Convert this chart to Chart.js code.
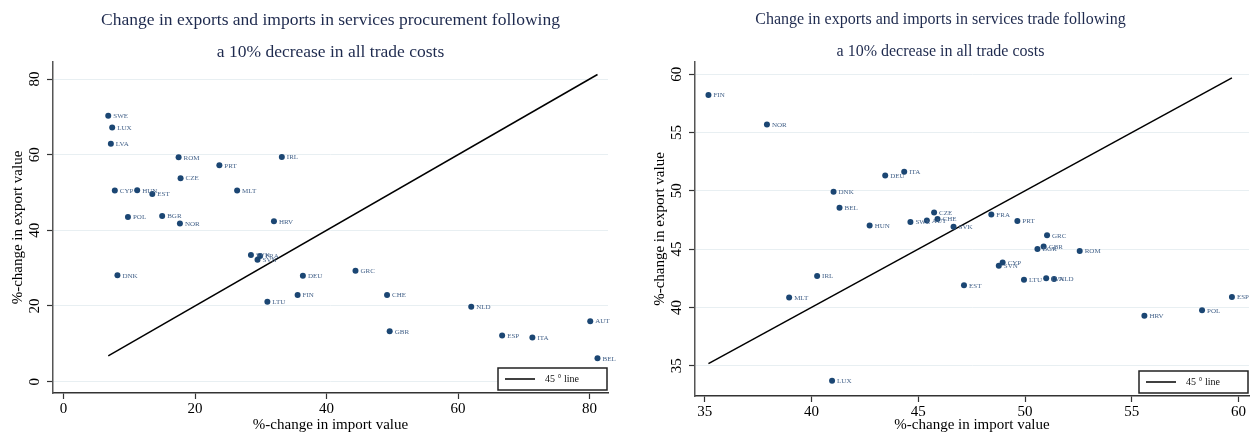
<!DOCTYPE html>
<html>
<head>
<meta charset="utf-8">
<script src="https://cdn.jsdelivr.net/npm/chart.js@4.4.1/dist/chart.umd.min.js"></script>
<style>
  html, body { margin: 0; padding: 0; background: #fff; }
  .wrap { position: absolute; top: 0; width: 627px; height: 439px; }
  #left { left: 0; }
  #right { left: 627px; }
</style>
</head>
<body>
<div class="wrap" id="left"><canvas id="procChart" width="627" height="439"></canvas></div>
<div class="wrap" id="right"><canvas id="tradeChart" width="627" height="439"></canvas></div>
<script>
// services procurement (left)
const procCountries = ['SWE','LUX','LVA','ROM','IRL','PRT','CZE','CYP','HUN','EST','MLT','POL','BGR','NOR','HRV',
  'SVK','FRA','SVN','DNK','DEU','GRC','FIN','LTU','CHE','NLD','GBR','ESP','ITA','AUT','BEL'];
const procImport = [6.8, 7.4, 7.2, 17.5, 33.2, 23.7, 17.8, 7.8, 11.2, 13.5, 26.4, 9.8, 15.0, 17.7, 32.0,
  28.5, 29.9, 29.5, 8.2, 36.4, 44.4, 35.6, 31.0, 49.2, 62.0, 49.6, 66.7, 71.3, 80.1, 81.2];
const procExport = [70.3, 67.2, 62.9, 59.3, 59.4, 57.2, 53.8, 50.5, 50.6, 49.6, 50.5, 43.5, 43.8, 41.8, 42.4,
  33.5, 33.2, 32.2, 28.1, 28.0, 29.3, 22.9, 21.1, 22.9, 19.8, 13.3, 12.2, 11.7, 16.0, 6.2];
const procTicks = [0, 20, 40, 60, 80];

// services trade (right)
const tradeCountries = ['FIN','NOR','DEU','ITA','DNK','BEL','HUN','SWE','AUT','CZE','CHE','SVK','FRA','PRT','GRC',
  'GBR','BGR','ROM','CYP','SVN','LTU','LVA','NLD','EST','IRL','MLT','LUX','HRV','POL','ESP'];
const tradeImport = [35.17, 37.91, 43.45, 44.34, 41.03, 41.31, 42.72, 44.63, 45.40, 45.74, 45.90, 46.65, 48.42, 49.64, 51.03,
  50.87, 50.58, 52.56, 48.95, 48.77, 49.95, 50.99, 51.36, 47.14, 40.26, 38.95, 40.96, 55.59, 58.29, 59.69];
const tradeExport = [58.23, 55.69, 51.32, 51.63, 49.92, 48.55, 47.03, 47.32, 47.46, 48.14, 47.58, 46.92, 47.97, 47.41, 46.18,
  45.23, 45.01, 44.84, 43.86, 43.58, 42.38, 42.49, 42.44, 41.89, 42.70, 40.85, 33.70, 39.29, 39.75, 40.89];
const tradeTicks = [35, 40, 45, 50, 55, 60];

const serif = "'Liberation Serif', 'Times New Roman', serif";
const dotColor = '#1b4673';

// two-line title, centred where the panel wants it
const panelTitle = {
  id: 'panelTitle',
  afterDraw(chart, args, opts) {
    const ctx = chart.ctx;
    const ca = chart.chartArea;
    const cx = opts.overArea ? (ca.left + ca.right) / 2 : chart.width / 2;
    ctx.save();
    ctx.fillStyle = '#1e2a4e';
    ctx.font = opts.size + 'px ' + serif;
    ctx.textAlign = 'center';
    ctx.textBaseline = 'middle';
    opts.lines.forEach((line, i) => ctx.fillText(line, cx, 20 + i * 32));
    ctx.restore();
  }
};

// country codes next to the dots
const pointLabels = {
  id: 'pointLabels',
  afterDatasetsDraw(chart, args, opts) {
    const ctx = chart.ctx;
    const meta = chart.getDatasetMeta(0);
    ctx.save();
    ctx.font = '7px ' + serif;
    ctx.fillStyle = '#45638a';
    ctx.textBaseline = 'middle';
    meta.data.forEach((pt, i) => {
      ctx.fillText(opts.names[i], pt.x + 5, pt.y + 0.5);
    });
    ctx.restore();
  }
};

// boxed legend in the lower right corner
const cornerLegend = {
  id: 'cornerLegend',
  afterDraw(chart) {
    const ctx = chart.ctx;
    const ca = chart.chartArea;
    const right = ca.right - 1, bottom = ca.bottom - 3;
    const left = right - 109, top = bottom - 22;
    ctx.save();
    ctx.fillStyle = '#fff';
    ctx.fillRect(left, top, right - left, bottom - top);
    ctx.strokeStyle = '#222';
    ctx.lineWidth = 1.5;
    ctx.strokeRect(left, top, right - left, bottom - top);
    const mid = (top + bottom) / 2;
    ctx.beginPath();
    ctx.moveTo(left + 7, mid);
    ctx.lineTo(left + 37, mid);
    ctx.lineWidth = 1.5;
    ctx.strokeStyle = '#000';
    ctx.stroke();
    ctx.fillStyle = '#111';
    ctx.font = '10px ' + serif;
    ctx.textBaseline = 'middle';
    ctx.fillText('45 \u00b0 line', left + 47, mid + 0.5);
    ctx.restore();
  }
};

function makeChart(id, cfg) {
  const pts = cfg.xs.map((x, i) => ({ x: x, y: cfg.ys[i] }));
  const lo = Math.min(...cfg.xs), hi = Math.max(...cfg.xs);
  return new Chart(document.getElementById(id), {
    type: 'scatter',
    data: {
      datasets: [
        {
          data: pts,
          backgroundColor: dotColor,
          borderColor: dotColor,
          pointRadius: 3,
          borderWidth: 0,
        },
        {
          type: 'line',
          data: [{ x: lo, y: lo }, { x: hi, y: hi }],
          borderColor: '#000',
          borderWidth: 1.5,
          pointRadius: 0,
          fill: false,
        },
      ],
    },
    options: {
      animation: false,
      responsive: false,
      events: [],
      layout: { padding: { left: cfg.padLeft, right: cfg.padRight, top: 62, bottom: 0 } },
      plugins: {
        legend: { display: false },
        tooltip: { enabled: false },
        title: { display: false },
        panelTitle: { lines: cfg.title, size: cfg.titleSize, overArea: cfg.titleOverArea },
        pointLabels: { names: cfg.names },
      },
      scales: {
        x: {
          type: 'linear',
          min: cfg.xMin,
          max: cfg.xMax,
          afterBuildTicks: (s) => { s.ticks = cfg.xTicks.map(v => ({ value: v })); },
          afterFit: (s) => { s.height = cfg.xHeight; },
          grid: { drawOnChartArea: false, drawTicks: true, tickLength: 6, tickColor: '#333', tickWidth: 1.2 },
          border: { color: '#333', width: 1.5 },
          ticks: { color: '#000', font: { family: serif, size: 15 }, padding: 1, maxRotation: 0 },
          title: {
            display: true,
            text: '%-change in import value',
            color: '#000',
            font: { family: serif, size: 15 },
            padding: { top: 0, bottom: 5 },
          },
        },
        y: {
          type: 'linear',
          min: cfg.yMin,
          max: cfg.yMax,
          afterBuildTicks: (s) => { s.ticks = cfg.yTicks.map(v => ({ value: v })); },
          afterFit: (s) => { s.width = 53; },
          grid: { color: '#e8eff2', lineWidth: 1, drawTicks: true, tickLength: 6, tickColor: '#333', tickWidth: 1.2 },
          border: { color: '#555', width: 1.5 },
          ticks: {
            color: '#000',
            font: { family: serif, size: 15 },
            padding: 4,
            minRotation: 90,
            maxRotation: 90,
            crossAlign: 'center',
          },
          title: {
            display: true,
            text: '%-change in export value',
            color: '#000',
            font: { family: serif, size: 15 },
            padding: { top: 9, bottom: 0 },
          },
        },
      },
    },
    plugins: [panelTitle, pointLabels, cornerLegend],
  });
}

makeChart('procChart', {
  title: ['Change in exports and imports in services procurement following', 'a 10% decrease in all trade costs'],
  titleSize: 17.5, titleOverArea: true,
  names: procCountries, xs: procImport, ys: procExport,
  xTicks: procTicks, yTicks: procTicks,
  xMin: -1.6, xMax: 82.8, yMin: -3.0, yMax: 84.5,
  padLeft: 0, padRight: 19, xHeight: 46,
});

makeChart('tradeChart', {
  title: ['Change in exports and imports in services trade following', 'a 10% decrease in all trade costs'],
  titleSize: 16, titleOverArea: false,
  names: tradeCountries, xs: tradeImport, ys: tradeExport,
  xTicks: tradeTicks, yTicks: tradeTicks,
  xMin: 34.54, xMax: 60.49, yMin: 32.4, yMax: 61.05,
  padLeft: 15, padRight: 5, xHeight: 43,
});
</script>
</body>
</html>
